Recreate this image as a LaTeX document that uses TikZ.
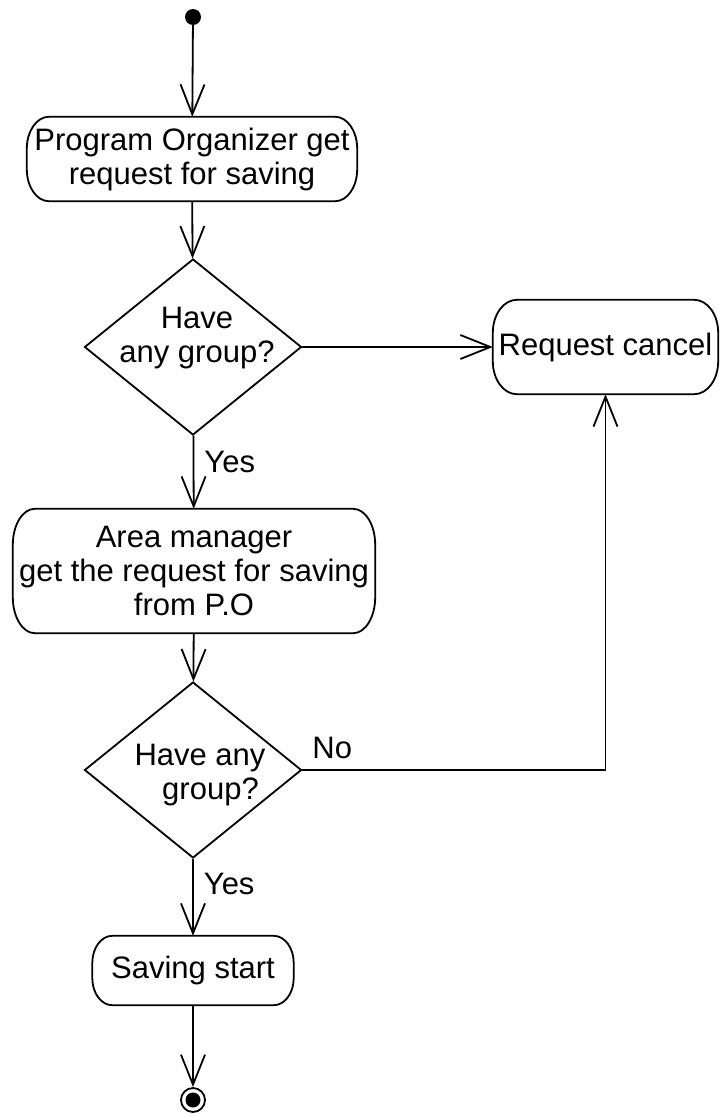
\documentclass[tikz,border=0pt]{standalone}
\usepackage{fontspec}
\setmainfont{Liberation Sans}
\usetikzlibrary{arrows.meta,shapes.geometric}

\tikzset{
  every node/.style={font=\fontsize{31}{34}\selectfont},
  activity/.style={inner sep=0pt, align=center},
  outline/.style={line width=1.8pt},
  decision/.style={draw, line width=1.8pt, diamond, inner sep=0pt, align=center},
  flow/.style={line width=1.8pt, -{Straight Barb[length=30pt,width=24pt,line width=1.8pt]}},
  lbl/.style={inner sep=0pt, anchor=base west},
}

% activity outline with elliptical ends: node, x radius, y radius
\newcommand\actoutline[3]{%
  \draw[outline] ([xshift=#2]#1.north west) -- ([xshift=-#2]#1.north east)
    arc[start angle=90, end angle=0, x radius=#2, y radius=#3]
    -- ([yshift=#3]#1.south east)
    arc[start angle=0, end angle=-90, x radius=#2, y radius=#3]
    -- ([xshift=#2]#1.south west)
    arc[start angle=-90, end angle=-180, x radius=#2, y radius=#3]
    -- ([yshift=-#3]#1.north west)
    arc[start angle=180, end angle=90, x radius=#2, y radius=#3]
    -- cycle;}

\begin{document}
\begin{tikzpicture}[x=1pt,y=-1pt]
  \useasboundingbox (0,0) rectangle (720,1114);

  % start and end states
  \node[circle, fill=black, inner sep=0pt, minimum size=16pt] (start) at (193,17) {};
  \node[circle, draw, line width=1.8pt, inner sep=0pt, minimum size=24pt] (finish) at (193,1100) {};
  \fill (finish.center) circle (7.5pt);

  % activities
  \node[activity, minimum width=330pt, minimum height=84pt] (organizer) at (192,159)
    {Program Organizer get\\request for saving};
  \actoutline{organizer}{22pt}{32pt}
  \node[activity, minimum width=225pt, minimum height=94pt] (cancel) at (605.5,347)
    {Request cancel};
  \actoutline{cancel}{24pt}{33pt}
  \node[activity, minimum width=362pt, minimum height=124pt] (area) at (194,571)
    {Area manager\\get the request for saving\\from P.O};
  \actoutline{area}{22pt}{36pt}
  \node[activity, minimum width=201pt, minimum height=69pt] (saving) at (193,970.5)
    {Saving start};
  \actoutline{saving}{20pt}{27pt}

  % decisions
  \node[decision, minimum width=217pt, minimum height=176pt] (check1) at (193,347) {};
  \node at (197,338) [align=center] {Have\\any group?};
  \node[decision, minimum width=217pt, minimum height=176pt] (check2) at (193,770) {};
  \node at (200,775) [align=center] {Have any\\\hspace*{21pt}group?};

  % connectors
  \draw[flow] (start) -- (organizer);
  \draw[flow] (organizer) -- (check1);
  \draw[flow] (check1.east) -- (cancel.west);
  \draw[flow] (check1) -- node[lbl, pos=0.5, xshift=10pt] {Yes} (area);
  \draw[flow] (area) -- (check2);
  \draw[flow] (check2.east) -| node[lbl, pos=0.015, yshift=12pt] {No} (cancel.south);
  \draw[flow] (check2) -- node[lbl, pos=0.46, xshift=10pt] {Yes} (saving);
  \draw[flow] (saving) -- (finish);
\end{tikzpicture}
\end{document}
